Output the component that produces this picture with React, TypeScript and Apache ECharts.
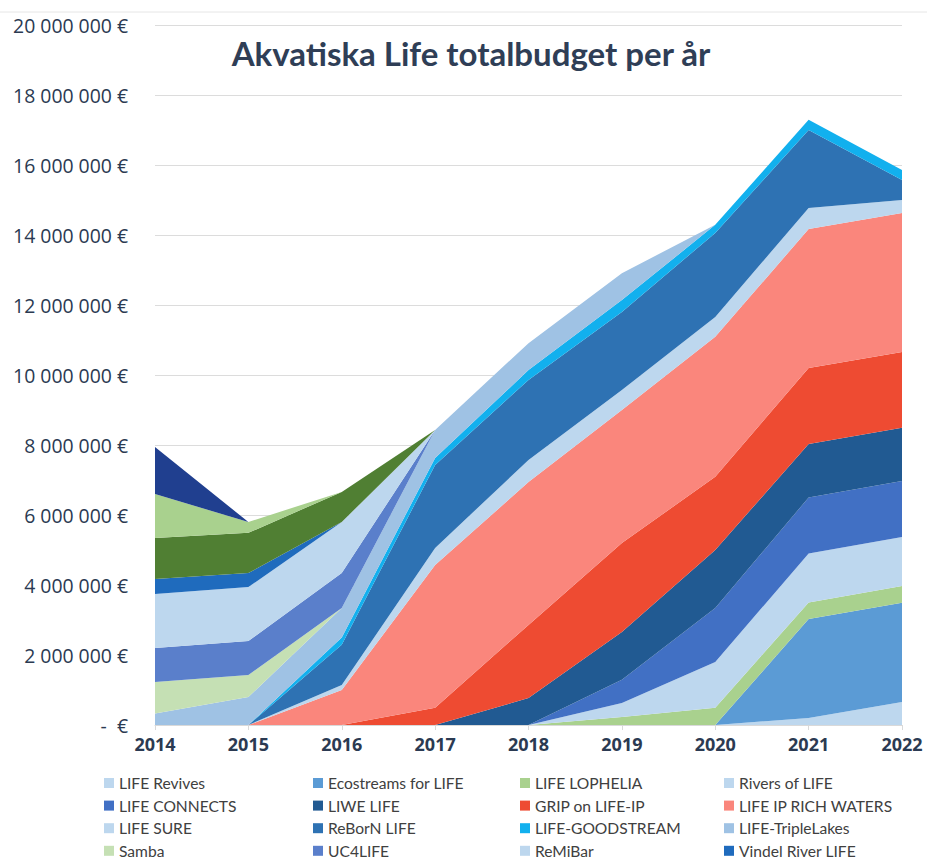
import React, { useEffect, useRef } from "react";
import * as echarts from "echarts";

const years = ["2014", "2015", "2016", "2017", "2018", "2019", "2020", "2021", "2022"];

const lifeRevives = [0, 0, 0, 0, 0, 0, 0, 200000, 660000];
const ecostreams = [0, 0, 0, 0, 0, 0, 0, 2830000, 2830000];
const lophelia = [0, 0, 0, 0, 0, 230000, 490000, 470000, 480000];
const riversOfLife = [0, 0, 0, 0, 0, 400000, 1310000, 1400000, 1400000];
const connects = [0, 0, 0, 0, 0, 660000, 1540000, 1600000, 1600000];
const liwe = [0, 0, 0, 0, 770000, 1370000, 1660000, 1530000, 1520000];
const grip = [0, 0, 0, 490000, 2090000, 2540000, 2090000, 2170000, 2170000];
const richWaters = [0, 0, 1000000, 4080000, 4080000, 3800000, 4000000, 3970000, 3970000];
const lifeSure = [0, 0, 140000, 490000, 630000, 570000, 570000, 600000, 370000];
const reborn = [0, 0, 1150000, 2370000, 2290000, 2230000, 2400000, 2230000, 570000];
const goodstream = [0, 0, 210000, 200000, 280000, 340000, 230000, 290000, 290000];
const tripleLakes = [330000, 800000, 840000, 800000, 770000, 770000, 0, 0, 0];
const samba = [900000, 630000, 0, 0, 0, 0, 0, 0, 0];
const uc4life = [970000, 970000, 1000000, 0, 0, 0, 0, 0, 0];
const remibar = [1540000, 1540000, 1460000, 0, 0, 0, 0, 0, 0];
const vindel = [430000, 400000, 0, 0, 0, 0, 0, 0, 0];
const otherA = [1170000, 1150000, 860000, 0, 0, 0, 0, 0, 0];
const otherB = [1260000, 310000, 0, 0, 0, 0, 0, 0, 0];
const otherC = [1340000, 0, 0, 0, 0, 0, 0, 0, 0];

const seriesDefs: [string, number[], string][] = [
  ["LIFE Revives", lifeRevives, "#bdd7ee"],
  ["Ecostreams for LIFE", ecostreams, "#5b9bd5"],
  ["LIFE LOPHELIA", lophelia, "#a9d18e"],
  ["Rivers of LIFE", riversOfLife, "#bdd7ee"],
  ["LIFE CONNECTS", connects, "#4170c4"],
  ["LIWE LIFE", liwe, "#215a92"],
  ["GRIP on LIFE-IP", grip, "#ee4b32"],
  ["LIFE IP RICH WATERS", richWaters, "#fa867c"],
  ["LIFE SURE", lifeSure, "#bdd7ee"],
  ["ReBorN LIFE", reborn, "#2e72b3"],
  ["LIFE-GOODSTREAM", goodstream, "#12b0ee"],
  ["LIFE-TripleLakes", tripleLakes, "#9fc2e4"],
  ["Samba", samba, "#c5e0b4"],
  ["UC4LIFE", uc4life, "#5a7fcb"],
  ["ReMiBar", remibar, "#bdd7ee"],
  ["Vindel River LIFE", vindel, "#1f6bbd"],
  ["Övrigt A", otherA, "#507f33"],
  ["Övrigt B", otherB, "#a9d18e"],
  ["Övrigt C", otherC, "#203f8f"],
];

const legendColumns = [
  ["LIFE Revives", "LIFE CONNECTS", "LIFE SURE", "Samba"],
  ["Ecostreams for LIFE", "LIWE LIFE", "ReBorN LIFE", "UC4LIFE"],
  ["LIFE LOPHELIA", "GRIP on LIFE-IP", "LIFE-GOODSTREAM", "ReMiBar"],
  ["Rivers of LIFE", "LIFE IP RICH WATERS", "LIFE-TripleLakes", "Vindel River LIFE"],
];
const legendLefts = [104, 313, 520, 724];

function fmt(v: number): string {
  if (v === 0) return "-  €";
  return String(Math.round(v)).replace(/\B(?=(\d{3})+(?!\d))/g, " ") + " €";
}

export default function App() {
  const ref = useRef<HTMLDivElement>(null);
  useEffect(() => {
    if (!ref.current) return;
    const chart = echarts.init(ref.current, undefined, { renderer: "svg" });
    const option: any = {
      animation: false,
      backgroundColor: "#ffffff",
      title: {
        text: "Akvatiska Life totalbudget per år",
        left: 466,
        top: 31,
        textAlign: "center",
        textStyle: {
          fontFamily: "Lato",
          fontWeight: "bold",
          fontSize: 33,
          color: "#2f3e56",
        },
      },
      graphic: [
        {
          type: "line",
          shape: { x1: 0, y1: 12, x2: 927, y2: 12 },
          style: { stroke: "#e6e6e6", lineWidth: 1 },
        },
      ],
      grid: { left: 155, right: 25, top: 25, bottom: 134, containLabel: false },
      xAxis: {
        type: "category",
        data: years,
        boundaryGap: false,
        axisLine: { lineStyle: { color: "#d9d9d9" } },
        axisTick: { show: true, length: 5, lineStyle: { color: "#d9d9d9" } },
        axisLabel: {
          fontFamily: "Open Sans",
          fontWeight: "bold",
          fontSize: 18,
          color: "#2b3a52",
          margin: 10,
        },
      },
      yAxis: {
        type: "value",
        min: 0,
        max: 20000000,
        interval: 2000000,
        axisLine: { show: false },
        axisTick: { show: false },
        splitLine: { lineStyle: { color: "#dcdcdc", width: 1 } },
        axisLabel: {
          formatter: fmt,
          fontFamily: "Open Sans",
          fontSize: 19.4,
          color: "#2b3a52",
          margin: 27,
        },
      },
      legend: legendColumns.map((col, i) => ({
        orient: "vertical",
        left: legendLefts[i],
        top: 775,
        padding: 0,
        itemGap: 6.6,
        itemWidth: 10,
        itemHeight: 10,
        icon: "rect",
        data: col,
        selectedMode: false,
        textStyle: {
          fontFamily: "Lato",
          fontSize: 15.6,
          color: "#404040",
          lineHeight: 16,
        },
      })),
      series: seriesDefs.map(([name, data, color]) => ({
        name,
        type: "line",
        stack: "total",
        data,
        symbol: "none",
        showSymbol: false,
        lineStyle: { width: 0, color },
        itemStyle: { color },
        areaStyle: { color, opacity: 1 },
        emphasis: { disabled: true },
      })),
    };
    chart.setOption(option);
    return () => chart.dispose();
  }, []);
  return (
    <div
      ref={ref}
      style={{ position: "fixed", left: 0, top: 0, width: 927, height: 859 }}
    />
  );
}
